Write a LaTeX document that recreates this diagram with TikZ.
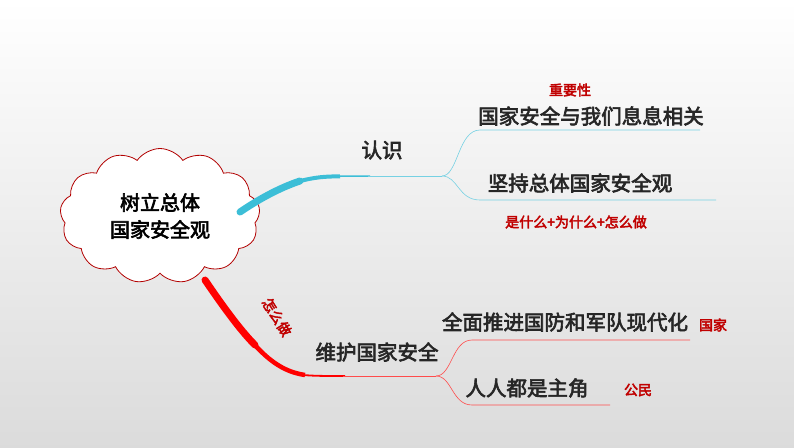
\documentclass[tikz,border=0pt]{standalone}
\usepackage{fontspec}
\setmainfont{Noto Sans CJK SC}[BoldFont={Noto Sans CJK SC}, BoldFeatures={FakeBold=3}]
\usetikzlibrary{shapes.symbols}
\definecolor{dred}{RGB}{192,0,0}
\definecolor{cyanb}{RGB}{60,190,215}
\tikzset{
  txt/.style={font=\bfseries\fontsize{20.5}{22}\selectfont, text=black!85, inner sep=1pt},
  rtxt/.style={font=\bfseries\fontsize{14}{16}\selectfont, text=dred, inner sep=1pt},
  thinb/.style={draw=cyanb!70, line width=0.6pt},
  thinr/.style={draw=red!70, line width=0.6pt}
}
\begin{document}
\begin{tikzpicture}[x=1pt,y=-1pt]
\shade[top color=white, bottom color=black!14] (0,0) rectangle (794,447);
\useasboundingbox (0,0) rectangle (794,447);
\node[cloud, cloud puffs=13, cloud puff arc=110, aspect=1.5, draw=red!70!black, fill=white, line width=0.8pt, minimum width=200, minimum height=135] (root) at (160,216) {};
\node[font=\bfseries\fontsize{20}{27}\selectfont, align=center] (rt) at (160,216) {树立总体\\国家安全观};
% blue branch
\coordinate (b1) at (442,176);
\draw[cyanb, line width=7pt, line cap=round] (240,212) .. controls (265,195) and (285,186) .. (300,181);
\draw[cyanb, line width=4pt] (298,181.6) .. controls (315,177) and (325,176.5) .. (340,176.3);
\draw[cyanb, line width=1.5pt] (338,176.2) -- (370,176);
\draw[thinb] (368,176) -- (b1);
\node[txt] (rz) at (382,150) {认识};
\coordinate (bu) at (700,130);
\coordinate (bd) at (716,200);
\draw[thinb] (b1) .. controls (458,176) and (458,130) .. (480,130) -- (bu);
\draw[thinb] (b1) .. controls (458,176) and (458,200) .. (480,200) -- (bd);
\node[rtxt] (zyx) at (570,90) {重要性};
\node[txt] (t1) at (591,116) {国家安全与我们息息相关};
\node[txt] (t2) at (580,183) {坚持总体国家安全观};
\node[rtxt] (t3) at (576,222) {是什么+为什么+怎么做};
% red branch
\coordinate (r1) at (436,376);
\draw[red, line width=7pt, line cap=round] (205,280) .. controls (222,305) and (240,330) .. (255,345);
\draw[red, line width=4.5pt] (253,343) .. controls (270,362) and (285,372) .. (305,375);
\draw[red, line width=1.8pt] (303,375) .. controls (315,376) and (325,376) .. (345,376);
\draw[thinr] (343,376) -- (r1);
\node[rtxt, rotate=-58] (zmz) at (277,317) {怎么做};
\node[txt] (w) at (377,352) {维护国家安全};
\coordinate (ru) at (690,340);
\coordinate (rd) at (610,405);
\draw[thinr] (r1) .. controls (452,376) and (452,340) .. (472,340) -- (ru);
\draw[thinr] (r1) .. controls (452,376) and (452,405) .. (472,405) -- (rd);
\node[txt] (t4) at (565,322) {全面推进国防和军队现代化};
\node[rtxt] (gj) at (713,325) {国家};
\node[txt] (t5) at (527,388) {人人都是主角};
\node[rtxt] (gm) at (638,390) {公民};
\end{tikzpicture}
\end{document}
